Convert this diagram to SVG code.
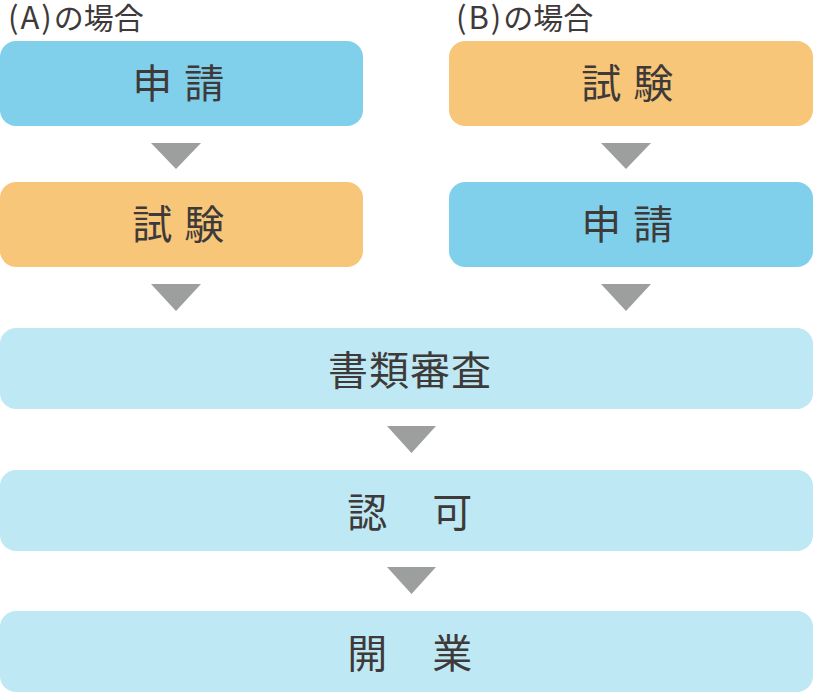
<svg xmlns="http://www.w3.org/2000/svg" width="813" height="692" viewBox="0 0 813 692">
<style>
.t{font-family:"Noto Sans CJK JP","Noto Sans",sans-serif;fill:#3e3a39;text-anchor:middle;font-size:40px;letter-spacing:1.5px}
.h{font-family:"Noto Sans CJK JP","Noto Sans",sans-serif;fill:#3e3a39;font-size:30px}
.p{font-size:31px;letter-spacing:2px}
.blue{fill:#80d0ec}
.orange{fill:#f8c679}
.light{fill:#bee8f4}
.arr{fill:#9d9e9e}
</style>
<text class="h" x="8" y="29"><tspan class="p">(A)</tspan>の場合</text>
<text class="h" x="456" y="29"><tspan class="p">(B)</tspan>の場合</text>
<g id="a1"><rect class="blue" x="0" y="41" width="363" height="85" rx="16"/><text class="t" x="179" y="98">申 請</text></g>
<g id="a2"><rect class="orange" x="0" y="182" width="363" height="85" rx="16"/><text class="t" x="179" y="239">試 験</text></g>
<g id="b1"><rect class="orange" x="449" y="41" width="364" height="85" rx="16"/><text class="t" x="628" y="98">試 験</text></g>
<g id="b2"><rect class="blue" x="449" y="182" width="364" height="85" rx="16"/><text class="t" x="628" y="239">申 請</text></g>
<g id="review"><rect class="light" x="0" y="328" width="813" height="81" rx="16"/><text class="t" x="410" y="385" style="letter-spacing:1px">書類審査</text></g>
<g id="permit"><rect class="light" x="0" y="470" width="813" height="81" rx="16"/><text class="t" x="411" y="527" style="letter-spacing:2.5px">認　可</text></g>
<g id="open"><rect class="light" x="0" y="611" width="813" height="81" rx="16"/><text class="t" x="411" y="668" style="letter-spacing:2.5px">開　業</text></g>
<g id="connectors">
<polygon class="arr" points="151,143 201,143 176,169"/>
<polygon class="arr" points="151,284 201,284 176,311"/>
<polygon class="arr" points="601,143 651,143 626,169"/>
<polygon class="arr" points="601,284 651,284 626,311"/>
<polygon class="arr" points="387,426 436,426 411.5,453"/>
<polygon class="arr" points="387,567 436,567 411.5,594"/>
</g>
</svg>
